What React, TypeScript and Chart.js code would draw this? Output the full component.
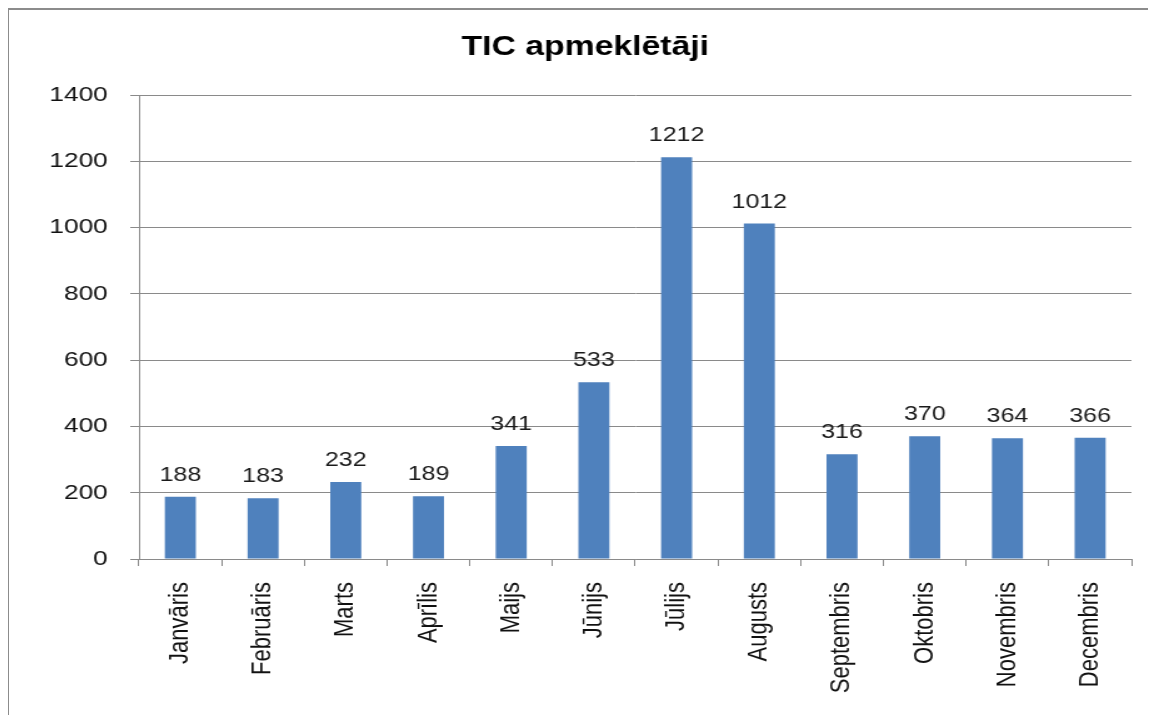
import React, { useEffect, useRef } from "react";
import { Chart, registerables } from "chart.js";

Chart.register(...registerables);

const chartTitle = "TIC apmeklētāji";
const categories = [
  "Janvāris",
  "Februāris",
  "Marts",
  "Aprīlis",
  "Maijs",
  "Jūnijs",
  "Jūlijs",
  "Augusts",
  "Septembris",
  "Oktobris",
  "Novembris",
  "Decembris",
];
const visitors = [188, 183, 232, 189, 341, 533, 1212, 1012, 316, 370, 364, 366];
const yMin = 0;
const yMax = 1400;
const yStep = 200;

const FONT = '"Liberation Sans", Arial, sans-serif';
const STRETCH = 1.25;
const CW = 916;
const CH = 704;

const titlePlugin = {
  id: "fixedTitle",
  afterDraw(chart: any) {
    const ctx = chart.ctx;
    ctx.save();
    ctx.font = `bold 27px ${FONT}`;
    ctx.fillStyle = "#000";
    ctx.textAlign = "center";
    ctx.textBaseline = "alphabetic";
    ctx.fillText(chartTitle, 461, 45);
    ctx.restore();
  },
};

const valueLabelPlugin = {
  id: "valueLabels",
  afterDatasetsDraw(chart: any) {
    const ctx = chart.ctx;
    const meta = chart.getDatasetMeta(0);
    const data = chart.data.datasets[0].data;
    ctx.save();
    ctx.font = `20px ${FONT}`;
    ctx.fillStyle = "#1a1a1a";
    ctx.textAlign = "center";
    ctx.textBaseline = "alphabetic";
    meta.data.forEach((bar: any, i: number) => {
      ctx.fillText(String(data[i]), bar.x, bar.y - 16);
    });
    ctx.restore();
  },
};

export default function App() {
  const ref = useRef<HTMLCanvasElement | null>(null);

  useEffect(() => {
    if (!ref.current) return;
    const chart = new Chart(ref.current, {
      type: "bar",
      data: {
        labels: categories,
        datasets: [
          {
            label: chartTitle,
            data: visitors,
            backgroundColor: "#4F81BD",
            borderWidth: 0,
            barPercentage: 1,
            categoryPercentage: 0.375,
          },
        ],
      },
      options: {
        responsive: false,
        animation: false,
        devicePixelRatio: 1,
        layout: { padding: { top: 85, right: 18, left: 0, bottom: 0 } },
        plugins: {
          legend: { display: false },
          title: { display: false },
          tooltip: { enabled: false },
        },
        scales: {
          x: {
            offset: true,
            grid: {
              offset: true,
              drawOnChartArea: false,
              drawTicks: true,
              tickLength: 7,
              color: "#8a8a8a",
            },
            border: { color: "#8a8a8a", width: 1 },
            ticks: {
              minRotation: 90,
              maxRotation: 90,
              autoSkip: false,
              padding: 16,
              color: "#111",
              font: { family: FONT, size: 22 },
            },
            afterFit: (s: any) => {
              s.height = 155;
            },
          },
          y: {
            min: yMin,
            max: yMax,
            ticks: {
              stepSize: yStep,
              padding: 18,
              color: "#111",
              font: { family: FONT, size: 21 },
              callback: (v: any) => String(v),
            },
            grid: { color: "#8a8a8a", tickLength: 7 },
            border: { color: "#8a8a8a", width: 1 },
            afterFit: (s: any) => {
              s.width = 104;
            },
          },
        },
      },
      plugins: [titlePlugin, valueLabelPlugin],
    });
    return () => chart.destroy();
  }, []);

  return (
    <div
      style={{
        position: "relative",
        marginLeft: -2,
        marginTop: -1,
        width: 1150,
        height: 710,
        borderLeft: "3px solid #8c8c8c",
        borderTop: "3px solid #8c8c8c",
        background: "#fff",
        overflow: "hidden",
        boxSizing: "content-box",
      }}
    >
      <div
        style={{
          position: "absolute",
          left: 0,
          top: 0,
          width: CW,
          height: CH,
          transform: `scaleX(${STRETCH})`,
          transformOrigin: "0 0",
        }}
      >
        <canvas ref={ref} width={CW} height={CH} />
      </div>
    </div>
  );
}
